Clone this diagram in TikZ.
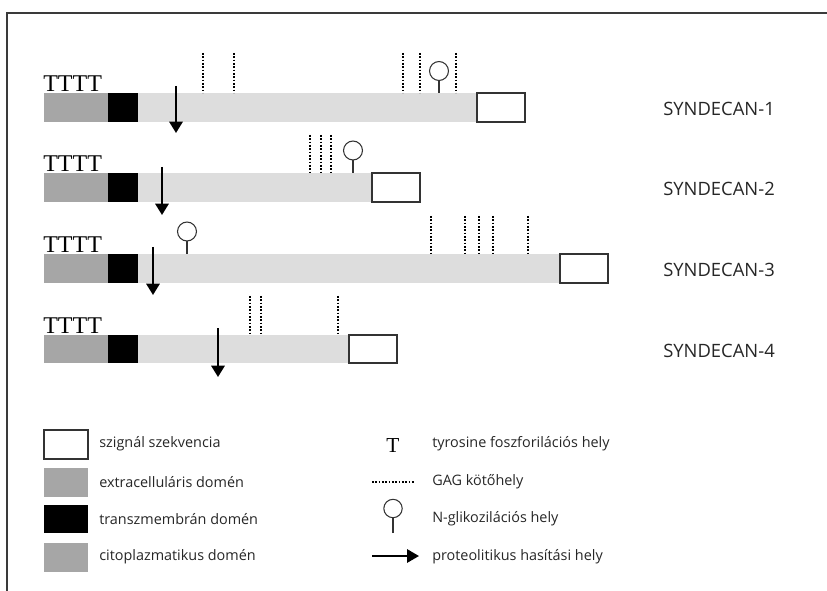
\documentclass[tikz,border=0pt]{standalone}
\usepackage{fontspec}
\setmainfont{Liberation Serif}
\newfontfamily\labelfont{Open Sans}
\usetikzlibrary{arrows.meta}
\definecolor{extgray}{HTML}{A6A6A6}
\definecolor{cytogray}{HTML}{DDDDDD}
\definecolor{framegray}{HTML}{3A3A3A}
\definecolor{edgegray}{HTML}{333333}
\tikzset{
  extdom/.style={fill=extgray},
  tmdom/.style={fill=black},
  cytodom/.style={fill=cytogray},
  sigbox/.style={draw=edgegray, fill=white, line width=0.9pt},
  gag/.style={line width=1.9pt, dash pattern=on 1.35pt off 1.15pt},
  lolli/.style={draw=edgegray, line width=0.8pt},
  cleave/.style={line width=1.6pt, -{Triangle[width=10pt, length=8.5pt]}},
  tyr/.style={inner sep=0pt, font=\fontsize{18}{18}\selectfont},
  synlabel/.style={inner sep=0pt, anchor=west, font=\labelfont\fontsize{13.8}{15}\selectfont, text=black!85},
  legtext/.style={inner sep=0pt, anchor=west, font=\labelfont\fontsize{10.8}{12}\selectfont, text=black!85}
}
\begin{document}
\begin{tikzpicture}[x=0.75pt, y=-0.75pt]
\useasboundingbox (0,0) rectangle (827,591);
% frame
\draw[framegray, line width=1.5pt] (7,591) -- (7,13) -- (827,13);

% ---- SYNDECAN-1 ----
\fill[extdom] (44,93) rectangle (108,122);
\fill[tmdom] (108,93) rectangle (138,122);
\fill[cytodom] (138,93) rectangle (477,122);
\draw[sigbox] (477,93) rectangle (525,122);
\node[tyr, anchor=base west] (t1) at (43,92) {TTTT};
\foreach \x in {203,234,403,420,456} \draw[gag] (\x,53) -- (\x,93);
\draw[lolli] (439,93) -- (439,80.5);
\draw[lolli] (439,71) circle (7.1pt);
\draw[cleave] (176,86) -- (176,133);
\node[synlabel] (s1) at (663,109) {SYNDECAN-1};

% ---- SYNDECAN-2 ----
\fill[extdom] (44,173) rectangle (108,202);
\fill[tmdom] (108,173) rectangle (138,202);
\fill[cytodom] (138,173) rectangle (372,202);
\draw[sigbox] (372,173) rectangle (420,202);
\node[tyr, anchor=base west] (t2) at (43,172) {TTTT};
\foreach \x in {310,321,331} \draw[gag] (\x,135) -- (\x,173);
\draw[lolli] (353,173) -- (353,160);
\draw[lolli] (353,150.5) circle (7.1pt);
\draw[cleave] (162,167) -- (162,215);
\node[synlabel] (s2) at (663,189) {SYNDECAN-2};

% ---- SYNDECAN-3 ----
\fill[extdom] (44,254) rectangle (108,283);
\fill[tmdom] (108,254) rectangle (138,283);
\fill[cytodom] (138,254) rectangle (560,283);
\draw[sigbox] (560,254) rectangle (608,283);
\node[tyr, anchor=base west] (t3) at (43,253) {TTTT};
\foreach \x in {431,465,479,493,528} \draw[gag] (\x,216) -- (\x,254);
\draw[lolli] (187,254) -- (187,241);
\draw[lolli] (187,231.5) circle (7.1pt);
\draw[cleave] (153,247) -- (153,295);
\node[synlabel] (s3) at (663,270) {SYNDECAN-3};

% ---- SYNDECAN-4 ----
\fill[extdom] (44,335) rectangle (108,363);
\fill[tmdom] (108,335) rectangle (138,363);
\fill[cytodom] (138,335) rectangle (349,363);
\draw[sigbox] (349,335) rectangle (397,363);
\node[tyr, anchor=base west] (t4) at (43,333) {TTTT};
\foreach \x in {250,261,338} \draw[gag] (\x,296) -- (\x,335);
\draw[cleave] (218,328) -- (218,377);
\node[synlabel] (s4) at (663,351) {SYNDECAN-4};

% ---- legend, left column ----
\draw[sigbox] (44,430) rectangle (88,459);
\fill[extdom] (44,468) rectangle (88,497);
\fill[tmdom] (44,505) rectangle (88,533);
\fill[extdom] (44,543) rectangle (88,572);
\node[legtext] (l1) at (99,444) {szignál szekvencia};
\node[legtext] (l2) at (99,482) {extracelluláris domén};
\node[legtext] (l3) at (99,519) {transzmembrán domén};
\node[legtext] (l4) at (99,557) {citoplazmatikus domén};

% ---- legend, right column ----
\node[inner sep=0pt, font=\fontsize{16}{16}\selectfont, anchor=base] (kt) at (393,452) {T};
\draw[line width=1.4pt, dash pattern=on 1.2pt off 1.3pt] (372,482) -- (415,482);
\draw[lolli] (393,533) -- (393,517);
\draw[lolli] (393,508.5) circle (6.9pt);
\draw[line width=1.6pt, -{Triangle[width=10pt, length=9pt]}] (372,556) -- (419,556);
\node[legtext] (r1) at (432,444) {tyrosine foszforilációs hely};
\node[legtext] (r2) at (432,482) {GAG kötőhely};
\node[legtext] (r3) at (432,519) {N-glikozilációs hely};
\node[legtext] (r4) at (432,557) {proteolitikus hasítási hely};
\end{tikzpicture}
\end{document}
